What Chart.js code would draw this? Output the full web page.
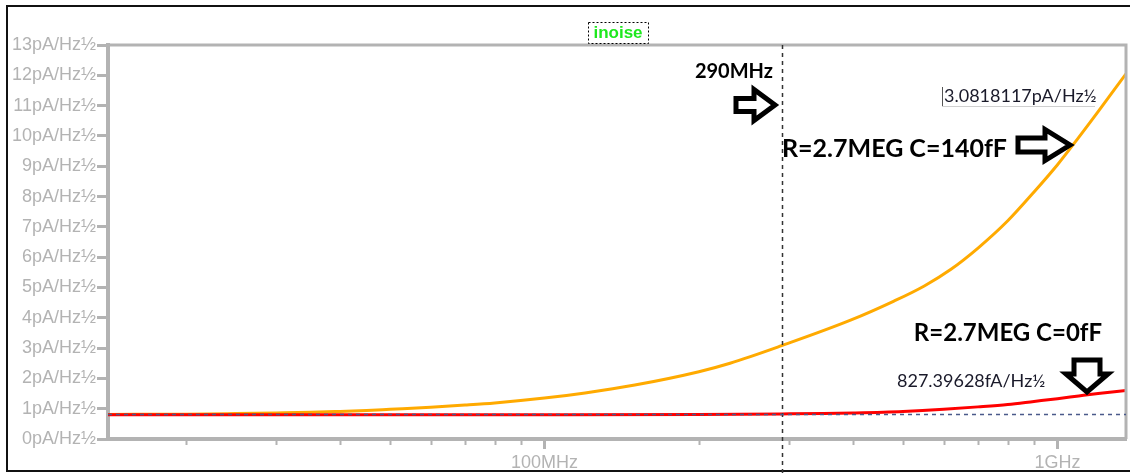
<!DOCTYPE html>
<html>
<head>
<meta charset="utf-8">
<title>inoise</title>
<script src="https://cdn.jsdelivr.net/npm/chart.js@4.4.1/dist/chart.umd.min.js"></script>
<style>
  html, body { margin: 0; padding: 0; background: #fff; }
</style>
</head>
<body>
<canvas id="myChart" width="1130" height="473"></canvas>
<script>
// Values (frequency in Hz, noise in pA/Hz½)
let freqC140 = [14.1e6, 20e6, 25e6, 30e6, 35e6, 40e6, 45e6, 50e6, 60e6, 70e6, 80e6, 100e6, 120e6, 150e6, 200e6, 230e6, 290e6, 395e6, 480e6, 550e6, 620e6, 700e6, 800e6, 900e6, 1000e6, 1100e6, 1200e6, 1360e6];
let noiseC140 = [0.81, 0.82, 0.84, 0.86, 0.88, 0.91, 0.94, 0.98, 1.05, 1.12, 1.19, 1.35, 1.52, 1.78, 2.22, 2.5, 3.08, 3.92, 4.55, 5.05, 5.6, 6.3, 7.2, 8.15, 9.05, 9.95, 10.8, 12.05];
let freqC0 = [14.1e6, 50e6, 100e6, 200e6, 290e6, 350e6, 400e6, 500e6, 600e6, 700e6, 800e6, 900e6, 1000e6, 1100e6, 1200e6, 1360e6];
let noiseC0 = [0.80, 0.80, 0.80, 0.81, 0.827, 0.84, 0.86, 0.91, 0.98, 1.06, 1.14, 1.24, 1.33, 1.42, 1.5, 1.6];

// axis ticks
let xMinorTicks = [20e6, 30e6, 40e6, 50e6, 60e6, 70e6, 80e6, 90e6, 200e6, 300e6, 400e6, 500e6, 600e6, 700e6, 800e6, 900e6];
let xMajorTicks = [100e6, 1e9];
let xMajorLabels = ['100MHz', '1GHz'];

// cursor
let cursorFreq = 290e6;
let cursorC140 = '3.0818117pA/Hz½';
let cursorC0Val = 0.82739628;
let cursorC0 = '827.39628fA/Hz½';

const GREY = '#b3b3b3';

// Draw a hollow block arrow pointing right
function arrowRight(ctx, x0, x1, cy, bodyH, headX, headH) {
	ctx.beginPath();
	ctx.moveTo(x0, cy - bodyH);
	ctx.lineTo(headX, cy - bodyH);
	ctx.lineTo(headX, cy - headH);
	ctx.lineTo(x1, cy);
	ctx.lineTo(headX, cy + headH);
	ctx.lineTo(headX, cy + bodyH);
	ctx.lineTo(x0, cy + bodyH);
	ctx.closePath();
	ctx.fillStyle = '#fff';
	ctx.fill();
	ctx.stroke();
}

// Draw a hollow block arrow pointing down
function arrowDown(ctx, cx, y0, y1, bodyW, headY, headW) {
	ctx.beginPath();
	ctx.moveTo(cx - bodyW, y0);
	ctx.lineTo(cx + bodyW, y0);
	ctx.lineTo(cx + bodyW, headY);
	ctx.lineTo(cx + headW, headY);
	ctx.lineTo(cx, y1);
	ctx.lineTo(cx - headW, headY);
	ctx.lineTo(cx - bodyW, headY);
	ctx.closePath();
	ctx.fillStyle = '#fff';
	ctx.fill();
	ctx.stroke();
}

const framePlugin = {
	id: 'frame',
	beforeDraw(chart) {
		const ctx = chart.ctx;
		ctx.save();
		ctx.strokeStyle = '#111';
		ctx.lineWidth = 2;
		ctx.strokeRect(7, 6, 1140, 465);
		ctx.restore();
	},
	afterDatasetsDraw(chart) {
		const ctx = chart.ctx;
		const a = chart.chartArea;
		const xs = chart.scales.x;
		const ys = chart.scales.y;
		ctx.save();

		// top and right frame
		ctx.strokeStyle = GREY;
		ctx.lineWidth = 3;
		ctx.beginPath();
		ctx.moveTo(a.left, a.top);
		ctx.lineTo(a.right, a.top);
		ctx.lineTo(a.right, a.bottom);
		ctx.stroke();

		// x ticks
		ctx.lineWidth = 2;
		xMinorTicks.forEach(v => {
			let px = Math.round(xs.getPixelForValue(v)) + 0.5;
			ctx.beginPath();
			ctx.moveTo(px, a.bottom);
			ctx.lineTo(px, a.bottom + 6);
			ctx.stroke();
		});
		ctx.fillStyle = GREY;
		ctx.font = '18px "Liberation Sans", Arial, sans-serif';
		ctx.textAlign = 'center';
		ctx.textBaseline = 'alphabetic';
		xMajorTicks.forEach((v, i) => {
			let px = Math.round(xs.getPixelForValue(v)) + 0.5;
			ctx.lineWidth = 3;
			ctx.beginPath();
			ctx.moveTo(px, a.bottom);
			ctx.lineTo(px, a.bottom + 10);
			ctx.stroke();
			ctx.fillText(xMajorLabels[i], px, 468);
		});

		// cursor lines
		let cx = Math.round(xs.getPixelForValue(cursorFreq)) + 0.5;
		let cy = Math.round(ys.getPixelForValue(cursorC0Val)) + 0.5;
		ctx.strokeStyle = '#333';
		ctx.lineWidth = 1.5;
		ctx.setLineDash([4, 4]);
		ctx.beginPath();
		ctx.moveTo(cx, a.top);
		ctx.lineTo(cx, 473);
		ctx.stroke();
		ctx.strokeStyle = '#4a5a8a';
		ctx.beginPath();
		ctx.moveTo(a.left, cy);
		ctx.lineTo(a.right, cy);
		ctx.stroke();
		ctx.setLineDash([]);

		// title
		ctx.font = 'bold 17px "Liberation Sans", Arial, sans-serif';
		ctx.fillStyle = '#1ee81e';
		ctx.textAlign = 'center';
		ctx.fillText('inoise', 618, 38);
		ctx.strokeStyle = '#000';
		ctx.lineWidth = 1;
		ctx.setLineDash([2, 2]);
		ctx.strokeRect(588.5, 22.5, 60, 21);
		ctx.setLineDash([]);

		// annotations
		ctx.fillStyle = '#000';
		ctx.textAlign = 'right';
		ctx.font = 'bold 20px Lato, "Open Sans", sans-serif';
		ctx.fillText('290MHz', 773, 78);
		ctx.font = 'bold 24px Lato, "Open Sans", sans-serif';
		ctx.fillText('R=2.7MEG C=0fF', 1102, 341);
		ctx.textAlign = 'left';
		ctx.font = 'bold 25px Lato, "Open Sans", sans-serif';
		ctx.fillText('R=2.7MEG C=140fF', 782, 157);

		ctx.font = '18px Lato, "Open Sans", sans-serif';
		ctx.fillStyle = '#1a1a2a';
		ctx.fillText(cursorC140, 944, 102);
		ctx.fillText(cursorC0, 897, 387);
		ctx.strokeStyle = '#cfcfcf';
		ctx.lineWidth = 1;
		ctx.beginPath();
		ctx.moveTo(942, 106.5);
		ctx.lineTo(1095, 106.5);
		ctx.stroke();
		ctx.strokeStyle = '#555';
		ctx.beginPath();
		ctx.moveTo(942.5, 87);
		ctx.lineTo(942.5, 106);
		ctx.stroke();

		// arrows
		ctx.strokeStyle = '#000';
		ctx.lineWidth = 5;
		ctx.lineJoin = 'miter';
		arrowRight(ctx, 736, 775, 105, 6.5, 754, 15.5);
		arrowRight(ctx, 1018, 1070, 145, 7, 1045, 15.5);
		arrowDown(ctx, 1087, 360, 392, 13, 374, 21);

		ctx.restore();
	}
};

const config = {
	type: 'line',
	data: {
		datasets: [
			{
				label: 'R=2.7MEG C=0fF',
				data: freqC0.map((f, i) => ({x: f, y: noiseC0[i]})),
				borderColor: '#ff0000',
				borderWidth: 3,
				pointRadius: 0,
				cubicInterpolationMode: 'monotone'
			},
			{
				label: 'R=2.7MEG C=140fF',
				data: freqC140.map((f, i) => ({x: f, y: noiseC140[i]})),
				borderColor: '#ffaa00',
				borderWidth: 3,
				pointRadius: 0,
				cubicInterpolationMode: 'monotone'
			}
		]
	},
	options: {
		responsive: false,
		animation: false,
		devicePixelRatio: 1,
		layout: { padding: { top: 45, right: 4, left: 0, bottom: 0 } },
		plugins: { legend: { display: false }, tooltip: { enabled: false } },
		scales: {
			x: {
				type: 'logarithmic',
				min: 14.1e6,
				max: 1.36e9,
				grid: { display: false },
				ticks: { display: false },
				border: { display: true, color: GREY, width: 4 },
				afterFit: s => { s.height = 34; }
			},
			y: {
				type: 'linear',
				min: 0,
				max: 13,
				ticks: {
					stepSize: 1,
					color: GREY,
					padding: 1,
					font: { family: '"Liberation Sans", Arial, sans-serif', size: 18 },
					callback: v => v + 'pA/Hz½'
				},
				grid: { drawOnChartArea: false, color: GREY, tickLength: 11, tickWidth: 3 },
				border: { display: true, color: GREY, width: 4 },
				afterFit: s => { s.width = 108; }
			}
		}
	},
	plugins: [framePlugin]
};

let myChart = new Chart(document.getElementById('myChart'), config);
</script>
</body>
</html>
